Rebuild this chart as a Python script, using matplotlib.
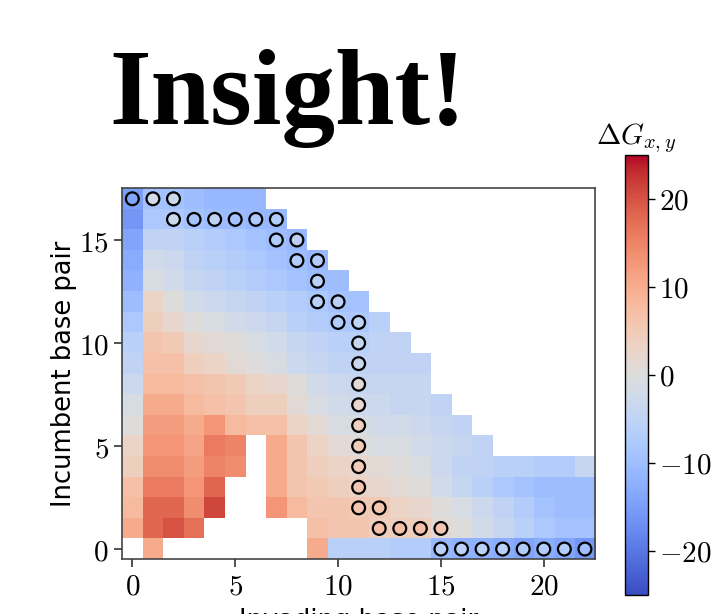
import numpy as np
import matplotlib
matplotlib.use('Agg')
import matplotlib.pyplot as plt
from matplotlib.ticker import FuncFormatter

plt.rcParams['mathtext.fontset'] = 'cm'

N = None  # empty cell

# free energy landscape, row index = incumbent base pair (0 at the bottom), 23 columns
dG_rows = [
    # row 0
    [N, 10, N, N, N, N, N, N, N, 10, -6, -6, -6, -7, -7, -11, -12, -12, -13, -14, -13, -14, -16],
    # row 1
    [10, 18, 20, 17, N, N, N, N, N, 7, 6, 6, 4, 4, 4, 1, 0, -2, -4, -6, -8, -9, -9],
    # row 2
    [8, 18, 18, 14, 21, N, N, 13, 8, 6, 6, 5, 5, 3, 2, 0, -1, -3, -5, -7, -9, -10, -10],
    # row 3
    [7, 16, 16, 13, 18, N, N, 10, 6, 5, 4, 3, 2, 1, 0, -2, -4, -6, -8, -9, -10, -10, -10],
    # row 4
    [4, 14, 14, 12, 15, 14, N, 10, 6, 4, 3, 2, 1, 0, -1, -3, -5, -5, -6, -6, -7, -7, -4],
    # row 5
    [3, 13, 13, 11, 16, 15, N, 10, 6, 3, 1, 0, -1, -1, -2, -3, -4, -5, N, N, N, N, N],
    # row 6
    [0, 12, 12, 10, 13, 8, 7, 7, 3, 1, -1, -1, -2, -2, -3, -4, -5, N, N, N, N, N, N],
    # row 7
    [-1, 10, 10, 8, 7, 6, 4, 4, 1, -1, -2, -3, -3, -4, -4, -5, N, N, N, N, N, N, N],
    # row 8
    [-3, 8, 8, 7, 6, 5, 3, 2, 0, -2, -3, -4, -4, -4, -4, N, N, N, N, N, N, N, N],
    # row 9
    [-5, 7, 7, 4, 3, 1, 0, -1, -3, -4, -5, -5, -5, -5, -5, N, N, N, N, N, N, N, N],
    # row 10
    [-6, 6, 5, 2, 1, 0, -1, -2, -4, -5, -6, -6, -5, -5, N, N, N, N, N, N, N, N, N],
    # row 11
    [-8, 4, 2, 0, -1, -2, -3, -4, -6, -7, -8, -8, -6, N, N, N, N, N, N, N, N, N, N],
    # row 12
    [-10, 3, 0, -2, -3, -4, -5, -6, -7, -8, -9, -9, N, N, N, N, N, N, N, N, N, N, N],
    # row 13
    [-12, -1, -2, -4, -5, -6, -7, -8, -9, -10, -10, N, N, N, N, N, N, N, N, N, N, N, N],
    # row 14
    [-13, -2, -3, -5, -6, -7, -8, -9, -10, -11, N, N, N, N, N, N, N, N, N, N, N, N, N],
    # row 15
    [-14, -5, -5, -6, -7, -8, -9, -10, -11, N, N, N, N, N, N, N, N, N, N, N, N, N, N],
    # row 16
    [-16, -8, -8, -9, -10, -10, -11, -11, N, N, N, N, N, N, N, N, N, N, N, N, N, N, N],
    # row 17
    [-15, -9, -9, -10, -11, -11, -11, N, N, N, N, N, N, N, N, N, N, N, N, N, N, N, N],
]

# path of circles (invading, incumbent) and their values
path_x = [0, 1, 2, 2, 3, 4, 5, 6, 7, 7, 8, 8, 9, 9, 9, 10, 10, 11, 11, 11,
          11, 11, 11, 11, 11, 11, 11, 12, 12, 13, 14, 15,
          15, 16, 17, 18, 19, 20, 21, 22]
path_y = [17, 17, 17, 16, 16, 16, 16, 16, 16, 15, 15, 14, 14, 13, 12, 12, 11, 11, 10, 9,
          8, 7, 6, 5, 4, 3, 2, 2, 1, 1, 1, 1,
          0, 0, 0, 0, 0, 0, 0, 0]
path_val = [-14, -2, -3, -3, -9, -5, -9, -8, -7, -7, -6, -7, -7, -6, -6, -6, -7, -5, -4, -3,
            1, 2, 4, 5, 5, 6, 6, 6, 7, 7, 7, 6,
            -6, -6, -6, -6, -7, -7, -7, -10]

cbar_ticks = [-20, -10, 0, 10, 20]

dG = np.array(dG_rows, dtype=float)

fig = plt.figure(figsize=(7.18, 6.14), dpi=100)
ax = fig.add_axes([0.170, 0.089, 0.659, 0.604])
cax = fig.add_axes([0.870, 0.031, 0.032, 0.717])

im = ax.imshow(dG, origin='lower', cmap='coolwarm', vmin=-25, vmax=25,
               interpolation='nearest', aspect='auto')
ax.scatter(path_x, path_y, c=path_val, cmap='coolwarm', vmin=-25, vmax=25,
           s=85, edgecolors='black', linewidths=1.6, zorder=3)

ax.set_xlim(-0.5, 22.5)
ax.set_ylim(-0.5, 17.5)
ax.set_xticks([0, 5, 10, 15, 20])
ax.set_yticks([0, 5, 10, 15])
math_fmt = FuncFormatter(lambda v, p: f'${int(v)}$')
ax.xaxis.set_major_formatter(math_fmt)
ax.yaxis.set_major_formatter(math_fmt)
ax.tick_params(labelsize=21, length=6, width=1.2, color='#333333')
for sp in ax.spines.values():
    sp.set_color('#444444')
    sp.set_linewidth(1.2)

ax.set_ylabel('Incumbent base pair', fontsize=18.5, family='DejaVu Sans')
ax.yaxis.set_label_coords(-0.095, 0.5)
# label runs off the bottom edge, only the tops of the letters show
ax.set_xlabel('Invading base pair', fontsize=18.5, family='DejaVu Sans')
ax.xaxis.set_label_coords(0.5, -0.13)

cb = fig.colorbar(im, cax=cax, ticks=cbar_ticks)
cb.ax.yaxis.set_major_formatter(math_fmt)
cb.ax.tick_params(labelsize=21, length=5, width=1.0)
cb.outline.set_linewidth(1.0)
cax.set_title(r'$\Delta G_{x,y}$', fontsize=21, pad=8)

fig.text(0.153, 0.798, 'Insight!', fontsize=77, fontweight='bold',
         family='Liberation Serif', ha='left', va='baseline')

fig.savefig('out.png', dpi=100)
